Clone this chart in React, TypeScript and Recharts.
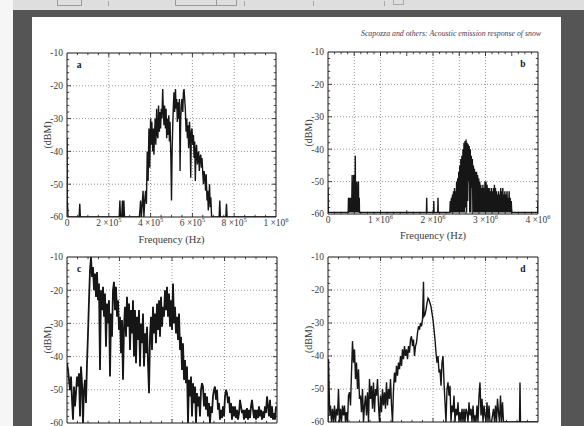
import React from 'react';
import { LineChart, Line, XAxis, YAxis, ReferenceLine, ReferenceArea } from 'recharts';

const SERIF = "'Liberation Serif', 'Times New Roman', Times, serif";
const INK = '#161616';
const TEXT = '#3a3a3a';
const GRID = '#8a8a8a';

const runningHead = 'Scapozza and others: Acoustic emission response of snow';
const freqTitle = 'Frequency (Hz)';
const levelTitle = '(dBM)';

// Level axis shared by the four spectra (dBM)
const levelTicks = [-60, -50, -40, -30, -20, -10];
const levelGrid = [-50, -40, -30, -20];

// Panel a: 0 – 1 MHz (frequency in kHz)
const freqTicksA = [0, 200, 400, 600, 800, 1000];
const freqLabelsA = [['0', ''], ['2 ×10', '5'], ['4 ×10', '5'], ['6 ×10', '5'], ['8 ×10', '5'], ['1 ×10', '6']];
const freqGridA = [200, 400, 600, 800];
const spectrumA: [number, number][] = [
  [0, -36], [1, -55], [3, -57], [5, -60], [58, -60], [61, -56], [64, -60], [250, -60], [253, -55], [256, -60],
  [262, -60], [265, -55], [268, -60], [272, -55], [275, -60], [346, -60], [349, -58], [352, -55], [356, -60],
  [360, -56], [364, -52], [368, -60], [372, -55], [376, -52], [380, -56], [384, -40], [388, -49], [392, -33],
  [396, -45], [400, -30], [403, -38], [406, -31], [410, -40], [413, -33], [416, -41], [419, -34], [422, -30],
  [425, -38], [429, -27], [432, -35], [435, -36], [438, -26], [442, -34], [445, -28], [448, -33], [451, -27],
  [454, -30], [458, -21], [461, -28], [464, -32], [467, -26], [471, -33], [474, -27], [477, -36], [480, -30],
  [483, -35], [487, -29], [490, -37], [493, -31], [497, -42], [500, -55], [503, -40], [506, -32], [509, -26],
  [512, -22], [515, -28], [519, -21], [522, -27], [525, -24], [528, -31], [531, -25], [535, -30], [538, -24],
  [541, -46], [544, -30], [547, -26], [550, -24], [554, -28], [557, -22], [560, -21], [563, -24], [566, -27],
  [570, -34], [573, -30], [576, -36], [579, -32], [582, -39], [586, -31], [589, -35], [592, -48], [595, -34],
  [598, -33], [602, -38], [605, -35], [608, -42], [611, -37], [614, -49], [617, -40], [620, -38], [624, -44],
  [627, -41], [630, -40], [633, -46], [636, -42], [640, -41], [643, -45], [646, -42], [650, -47], [653, -50],
  [656, -46], [660, -48], [663, -52], [666, -47], [670, -55], [673, -52], [676, -58], [679, -54], [682, -50],
  [685, -57], [688, -54], [692, -60], [728, -60], [731, -55], [734, -60], [760, -60], [763, -56], [766, -60],
  [1000, -60],
];

// Panel b: 0 – 4 MHz (frequency in kHz)
const freqTicksB = [0, 1000, 2000, 3000, 4000];
const freqLabelsB = [['0', ''], ['1 ×10', '6'], ['2 ×10', '6'], ['3 ×10', '6'], ['4 ×10', '6']];
const freqGridB = [500, 1000, 2000, 2500, 3000];
const spectrumB: [number, number][] = [
  [0, -52], [5, -59.5], [385, -59.5], [390, -55], [395, -59.5], [405, -55], [410, -59.5], [420, -55], [430, -59.5],
  [440, -55], [450, -59.5], [460, -48], [465, -59.5], [470, -55], [480, -59.5], [490, -48], [495, -59.5],
  [505, -55], [510, -59.5], [520, -42], [525, -59.5], [535, -55], [540, -59.5], [550, -50], [555, -59.5],
  [565, -55], [570, -59.5], [580, -50], [585, -59.5], [595, -55], [600, -59.5], [1875, -59.5], [1880, -55],
  [1885, -59.5], [2010, -59.5], [2015, -56], [2020, -59.5], [2090, -59.5], [2095, -55], [2100, -59.5],
  [2320, -59.5], [2330, -56], [2340, -59.5], [2350, -55], [2360, -59.5], [2370, -54], [2380, -59.5], [2390, -53],
  [2400, -59.5], [2410, -52], [2420, -59.5], [2430, -53], [2440, -59.5], [2450, -50], [2460, -59.5], [2470, -49],
  [2480, -59.5], [2490, -47], [2500, -59.5], [2510, -45], [2520, -59.5], [2530, -43], [2540, -59.5], [2550, -42],
  [2560, -59.5], [2570, -40], [2580, -59.5], [2590, -38], [2600, -59.5], [2610, -37.5], [2620, -58], [2630, -37],
  [2640, -59.5], [2650, -38], [2660, -56], [2670, -38.5], [2680, -50], [2690, -39], [2700, -59.5], [2710, -40],
  [2720, -59.5], [2730, -42], [2740, -52], [2750, -43], [2760, -59.5], [2770, -45], [2780, -59.5], [2790, -46],
  [2800, -59.5], [2810, -47], [2820, -59.5], [2830, -47], [2840, -59.5], [2850, -48], [2860, -59.5], [2870, -49],
  [2880, -59.5], [2890, -50], [2900, -59.5], [2910, -51], [2920, -59.5], [2930, -52], [2940, -59.5], [2950, -51],
  [2960, -59.5], [2970, -52], [2980, -59.5], [2990, -50], [3000, -59.5], [3010, -50], [3020, -59.5], [3030, -51],
  [3040, -59.5], [3050, -52], [3060, -59.5], [3070, -52], [3080, -59.5], [3090, -53], [3100, -59.5], [3110, -52],
  [3120, -59.5], [3130, -53], [3140, -59.5], [3150, -52], [3160, -59.5], [3170, -51], [3180, -59.5], [3190, -52],
  [3200, -59.5], [3210, -53], [3220, -59.5], [3230, -54], [3240, -59.5], [3250, -53], [3260, -59.5], [3270, -54],
  [3280, -59.5], [3290, -52], [3300, -59.5], [3310, -53], [3320, -59.5], [3330, -52], [3340, -59.5], [3350, -54],
  [3360, -59.5], [3370, -53], [3380, -59.5], [3390, -54], [3400, -59.5], [3410, -53], [3420, -59.5], [3430, -55],
  [3440, -59.5], [3450, -53], [3460, -59.5], [3470, -55], [3480, -59.5], [3490, -56], [3500, -59.5],
  [3995, -59.5], [4000, -56],
];

// Panels c and d share a 0 – 420 kHz axis
const freqGridCD = [105, 210, 315];
const spectrumC: [number, number][] = [
  [0, -42], [2, -44], [4, -47], [6, -50], [8, -46], [10, -53], [12, -59], [14, -49], [16, -55], [18, -51],
  [20, -46], [22, -49], [24, -45], [26, -58], [28, -43], [30, -48], [32, -60], [34, -50], [36, -47], [38, -54],
  [40, -42], [42, -33], [44, -23], [46, -14], [48, -10], [50, -16], [52, -13], [54, -20], [56, -15], [58, -22],
  [60, -14.5], [62, -23], [64, -18], [66, -44], [68, -20], [70, -26], [72, -19], [74, -28], [76, -21], [78, -37],
  [80, -24], [82, -30], [84, -23], [86, -46], [88, -27], [90, -34], [92, -20], [94, -17.5], [96, -26], [98, -19],
  [100, -28], [102, -23], [104, -32], [106, -28], [108, -39], [110, -29], [112, -47], [114, -31], [116, -25], [118, -34],
  [120, -22], [122, -31], [124, -24], [126, -38], [128, -26], [130, -33], [132, -23], [134, -40], [136, -26], [138, -42],
  [140, -28], [142, -35], [144, -26], [146, -43], [148, -30], [150, -36], [152, -27], [154, -43], [156, -33], [158, -39],
  [160, -31], [162, -42], [164, -51], [166, -34], [168, -28], [170, -38], [172, -25], [174, -33], [176, -27], [178, -36],
  [180, -24], [182, -32], [184, -23], [186, -34], [188, -22], [190, -31], [192, -25], [194, -28], [196, -20], [198, -26],
  [200, -19], [202, -28], [204, -21], [206, -31], [208, -23], [210, -32], [212, -18], [214, -30], [216, -25], [218, -33],
  [220, -28], [222, -35], [224, -27], [226, -38], [228, -34], [230, -44], [232, -36], [234, -47], [236, -41], [238, -48],
  [240, -43], [242, -60], [244, -47], [246, -52], [248, -46], [250, -58], [252, -48], [254, -54], [256, -49], [258, -60],
  [260, -51], [262, -55], [264, -52], [266, -58], [268, -50], [270, -48], [272, -49], [274, -55], [276, -51], [278, -56],
  [280, -52], [282, -58], [284, -54], [286, -60], [288, -55], [290, -57], [292, -52], [294, -50], [296, -49], [298, -53],
  [300, -50], [302, -56], [304, -54], [306, -59], [308, -56], [310, -58.5], [312, -55], [314, -58], [316, -52], [318, -50],
  [320, -51], [322, -54], [324, -52], [326, -57], [328, -54], [330, -59], [332, -55], [334, -58], [336, -55], [338, -58.5],
  [340, -56], [342, -59], [344, -57], [346, -53], [348, -55], [350, -57], [352, -56], [354, -59], [356, -56], [358, -58.5],
  [360, -55.5], [362, -59], [364, -56], [366, -58.5], [368, -55], [370, -53], [372, -56], [374, -58.5], [376, -56], [378, -59],
  [380, -56], [382, -58.5], [384, -55], [386, -58], [388, -56], [390, -59], [392, -56.5], [394, -58.5], [396, -55], [398, -57],
  [400, -52], [402, -55], [404, -58], [406, -53], [408, -58.5], [410, -55], [412, -59], [414, -57], [416, -59], [418, -55],
];
const spectrumD: [number, number][] = [
  [0, -60], [1, -41], [3, -55], [4, -58], [5, -55], [7, -60], [9, -56], [11, -60], [13, -55], [15, -60],
  [17, -56], [19, -58], [21, -50], [23, -60], [25, -56], [27, -60], [29, -55], [31, -58], [33, -55], [35, -60],
  [37, -57], [39, -60], [41, -52], [43, -51], [45, -55], [47, -45], [49, -35.5], [51, -42], [53, -38], [55, -47],
  [57, -42], [59, -50], [61, -44], [63, -53], [65, -52], [67, -57], [69, -50], [71, -60], [73, -55], [75, -52],
  [77, -58], [79, -51], [81, -60], [83, -47], [85, -53], [87, -49], [89, -56], [91, -48], [93, -57], [95, -50],
  [97, -52], [99, -47], [101, -55], [103, -60], [105, -52], [107, -57], [109, -50], [111, -55], [113, -51], [115, -56],
  [117, -48], [119, -55], [121, -50], [123, -53], [125, -47], [127, -55], [129, -60], [131, -50], [133, -45], [135, -48],
  [137, -43], [139, -46], [141, -42], [143, -44], [145, -40], [147, -43], [149, -38], [151, -41], [153, -37], [155, -40],
  [157, -38], [159, -41], [161, -37], [163, -39], [165, -35], [167, -34], [169, -37], [171, -35], [173, -40], [175, -37],
  [177, -36], [179, -33], [181, -31], [183, -32], [185, -30], [187, -31], [189, -29], [191, -17.5], [192, -28], [194, -27.5],
  [196, -26], [198, -24], [200, -22.5], [202, -23], [204, -24], [206, -25], [208, -27], [210, -29], [212, -32], [214, -35],
  [216, -39], [218, -42], [220, -40], [222, -45], [224, -44], [226, -49], [228, -42], [230, -40], [232, -48], [234, -54],
  [236, -60], [238, -50], [240, -48], [242, -52], [244, -49], [246, -60], [248, -55], [250, -57], [252, -52], [254, -60],
  [256, -56], [258, -58], [260, -54], [262, -60], [264, -57], [266, -60], [268, -56], [270, -60], [272, -56], [274, -60],
  [276, -56], [278, -57], [280, -60], [282, -54], [284, -58], [286, -56], [288, -60], [290, -55], [292, -60], [294, -58],
  [296, -60], [298, -55], [300, -60], [302, -52], [304, -48], [306, -58], [308, -53], [310, -60], [312, -55], [314, -58],
  [316, -60], [318, -54], [320, -60], [322, -55], [324, -60], [327, -60], [331, -56], [333, -60], [335, -55], [337, -60],
  [339, -53], [341, -57], [343, -60], [345, -52], [347, -60], [349, -54], [351, -60], [383, -60], [384, -48], [385, -60],
  [420, -60],
];

type SciLabel = string[];

// Tick label with a raised power-of-ten exponent, e.g. "2 ×10⁵"
function SciTick(props: any) {
  const { x, y, payload, ticks, labels } = props;
  const i = (ticks as number[]).indexOf(payload.value);
  const lab: SciLabel = labels[i] || ['', ''];
  return (
    <text x={x} y={y + 9} textAnchor="middle" fontFamily={SERIF} fontSize={9.5} fill={TEXT}>
      {lab[0]}
      {lab[1] ? (
        <tspan dy={-3.6} fontSize={6.5}>
          {lab[1]}
        </tspan>
      ) : null}
    </text>
  );
}

function range(from: number, to: number, step: number) {
  const out: number[] = [];
  for (let v = from; v <= to + 1e-9; v += step) out.push(Math.round(v * 1000) / 1000);
  return out;
}

// Inward tick marks on all four sides of a plot frame
function frameTicks(
  xDomain: number[],
  yDomain: number[],
  w: number,
  h: number,
  xMarks: number[],
  xMajor: number[],
  yMarks: number[],
  yMajor: number[],
) {
  const [x0, x1] = xDomain;
  const [y0, y1] = yDomain;
  const ux = (px: number) => (px * (x1 - x0)) / w;
  const uy = (px: number) => (px * (y1 - y0)) / h;
  const out: React.ReactNode[] = [];
  const seg = (key: string, a: { x: number; y: number }, b: { x: number; y: number }) =>
    out.push(
      <ReferenceLine key={key} segment={[a, b]} stroke={INK} strokeWidth={0.8} ifOverflow="visible" />,
    );
  xMarks.forEach((v) => {
    if (v <= x0 || v >= x1) return;
    const len = xMajor.includes(v) ? 4 : 2.2;
    seg(`xb${v}`, { x: v, y: y0 }, { x: v, y: y0 + uy(len) });
    seg(`xt${v}`, { x: v, y: y1 }, { x: v, y: y1 - uy(len) });
  });
  yMarks.forEach((v) => {
    if (v <= y0 || v >= y1) return;
    const len = yMajor.includes(v) ? 4 : 2.2;
    seg(`yl${v}`, { x: x0, y: v }, { x: x0 + ux(len), y: v });
    seg(`yr${v}`, { x: x1, y: v }, { x: x1 - ux(len), y: v });
  });
  return out;
}

type PanelProps = {
  plotLeft: number;
  plotTop: number;
  w: number;
  h: number;
  xDomain: number[];
  spectrum: [number, number][];
  xTicks?: number[];
  xLabels?: SciLabel[];
  xGrid: number[];
  xMarks: number[];
  xMajor: number[];
  tag: string;
  tagRight?: boolean;
  showFreqTitle: boolean;
  titleGap: number;
  traceWidth: number;
};

const Y_AXIS_W = 45;
const X_AXIS_H = 40;
const TOP_PAD = 5;
const RIGHT_PAD = 14;
const levelDomain = [-60, -10];

function SpectrumPanel(p: PanelProps) {
  const rows = p.spectrum.map(([f, db]) => ({ f, db }));
  const yMarks = range(-60, -10, 2);
  return (
    <div style={{ position: 'absolute', left: p.plotLeft - Y_AXIS_W, top: p.plotTop - TOP_PAD }}>
      <LineChart
        width={Y_AXIS_W + p.w + RIGHT_PAD}
        height={TOP_PAD + p.h + X_AXIS_H}
        data={rows}
        margin={{ top: TOP_PAD, right: RIGHT_PAD, bottom: 0, left: 0 }}
      >
        <XAxis
          type="number"
          dataKey="f"
          domain={p.xDomain}
          ticks={p.xTicks || []}
          interval={0}
          allowDataOverflow
          tickLine={false}
          axisLine={false}
          tickSize={0}
          tickMargin={0}
          height={X_AXIS_H}
          tick={p.xTicks ? <SciTick ticks={p.xTicks} labels={p.xLabels} /> : false}
          label={
            p.showFreqTitle
              ? (lp: any) => {
                  const vb = lp.viewBox || {};
                  return (
                    <text
                      x={vb.x + vb.width / 2}
                      y={vb.y + p.titleGap}
                      textAnchor="middle"
                      fontFamily={SERIF}
                      fontSize={10.5}
                      fill={TEXT}
                    >
                      {freqTitle}
                    </text>
                  );
                }
              : undefined
          }
        />
        <YAxis
          type="number"
          domain={levelDomain}
          ticks={levelTicks}
          interval={0}
          allowDataOverflow
          tickLine={false}
          axisLine={false}
          tickSize={2}
          tickMargin={2}
          width={Y_AXIS_W}
          tick={{ fontFamily: SERIF, fontSize: 9.5, fill: TEXT }}
          label={(lp: any) => {
            const vb = lp.viewBox || {};
            const cx = vb.x + 25;
            const cy = vb.y + vb.height / 2;
            return (
              <text
                transform={`translate(${cx}, ${cy}) rotate(-90)`}
                textAnchor="middle"
                dy="0.35em"
                fontFamily={SERIF}
                fontSize={10}
                fill={TEXT}
              >
                {levelTitle}
              </text>
            );
          }}
        />
        {p.xGrid.map((v) => (
          <ReferenceLine key={`gx${v}`} x={v} stroke={GRID} strokeWidth={0.9} strokeDasharray="1 2" />
        ))}
        {levelGrid.map((v) => (
          <ReferenceLine key={`gy${v}`} y={v} stroke={GRID} strokeWidth={0.9} strokeDasharray="1 2" />
        ))}
        {frameTicks(p.xDomain, levelDomain, p.w, p.h, p.xMarks, p.xMajor, yMarks, levelTicks)}
        <ReferenceArea
          x1={p.xDomain[0]}
          x2={p.xDomain[1]}
          y1={levelDomain[0]}
          y2={levelDomain[1]}
          fill="none"
          fillOpacity={0}
          stroke={INK}
          strokeWidth={1}
          ifOverflow="visible"
          label={(lp: any) => {
            const vb = lp.viewBox || {};
            const x = p.tagRight ? vb.x + vb.width - 15 : vb.x + 12;
            return (
              <text x={x} y={vb.y + 15} textAnchor="middle" fontFamily={SERIF} fontWeight="bold" fontSize={9.5} fill={INK}>
                {p.tag}
              </text>
            );
          }}
        />
        <Line
          type="linear"
          dataKey="db"
          stroke={INK}
          strokeWidth={p.traceWidth}
          strokeLinejoin="miter"
          dot={false}
          activeDot={false}
          isAnimationActive={false}
        />
      </LineChart>
    </div>
  );
}

export default function App() {
  return (
    <div
      style={{
        position: 'fixed',
        left: 0,
        top: 0,
        width: 584,
        height: 426,
        overflow: 'hidden',
        background: '#f6f6f6',
        fontFamily: SERIF,
      }}
    >
      {/* viewer chrome */}
      <div style={{ position: 'absolute', left: 13, top: 0, width: 571, height: 10, background: '#dedede' }} />
      <div style={{ position: 'absolute', left: 57, top: 0, width: 23, height: 5, border: '1px solid #9a9a9a', borderTop: 'none' }} />
      <div style={{ position: 'absolute', left: 175, top: 0, width: 60, height: 5, border: '1px solid #9a9a9a', borderTop: 'none' }} />
      <div style={{ position: 'absolute', left: 216, top: 0, width: 1, height: 5, background: '#9a9a9a' }} />
      {[108, 244, 313, 384].map((x) => (
        <div key={x} style={{ position: 'absolute', left: x, top: 1, width: 1, height: 5, background: '#a8a8a8' }} />
      ))}
      <div style={{ position: 'absolute', left: 393, top: 0, width: 9, height: 4, border: '1px solid #a8a8a8', borderTop: 'none' }} />
      <div style={{ position: 'absolute', left: 13, top: 10, width: 571, height: 416, background: '#555555' }} />
      {/* page */}
      <div style={{ position: 'absolute', left: 32, top: 17, width: 529, height: 409, background: '#ffffff' }} />
      <svg width={584} height={426} style={{ position: 'absolute', left: 0, top: 0 }}>
        <text x={541} y={35.5} textAnchor="end" fontFamily={SERIF} fontStyle="italic" fontSize={7.8} fill="#3c3c5e">
          {runningHead}
        </text>
      </svg>

      <SpectrumPanel
        plotLeft={67}
        plotTop={53}
        w={209}
        h={164}
        xDomain={[0, 1000]}
        spectrum={spectrumA}
        xTicks={freqTicksA}
        xLabels={freqLabelsA}
        xGrid={freqGridA}
        xMarks={range(0, 1000, 50)}
        xMajor={freqTicksA}
        tag="a"
        showFreqTitle
        titleGap={25.5}
        traceWidth={1.4}
      />
      <SpectrumPanel
        plotLeft={328}
        plotTop={52}
        w={210}
        h={162}
        xDomain={[0, 4000]}
        spectrum={spectrumB}
        xTicks={freqTicksB}
        xLabels={freqLabelsB}
        xGrid={freqGridB}
        xMarks={range(0, 4000, 125)}
        xMajor={range(0, 4000, 500)}
        tag="b"
        tagRight
        showFreqTitle
        titleGap={25}
        traceWidth={1.4}
      />
      <SpectrumPanel
        plotLeft={67}
        plotTop={257}
        w={210}
        h={166}
        xDomain={[0, 420]}
        spectrum={spectrumC}
        xGrid={freqGridCD}
        xMarks={range(0, 420, 21)}
        xMajor={range(0, 420, 105)}
        tag="c"
        showFreqTitle={false}
        titleGap={25}
        traceWidth={1.8}
      />
      <SpectrumPanel
        plotLeft={328}
        plotTop={257}
        w={210}
        h={165}
        xDomain={[0, 420]}
        spectrum={spectrumD}
        xGrid={freqGridCD}
        xMarks={range(0, 420, 21)}
        xMajor={range(0, 420, 105)}
        tag="d"
        tagRight
        showFreqTitle={false}
        titleGap={25}
        traceWidth={1.4}
      />
    </div>
  );
}
